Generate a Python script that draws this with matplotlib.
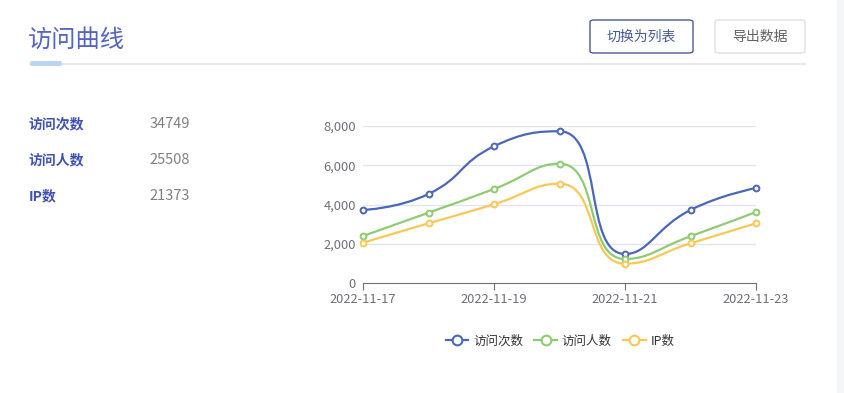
import numpy as np
import matplotlib
matplotlib.use("Agg")
import matplotlib.pyplot as plt
from matplotlib.path import Path
from matplotlib.patches import PathPatch, FancyBboxPatch, Rectangle
from matplotlib.lines import Line2D

plt.rcParams['font.family'] = ['Noto Sans CJK SC', 'DejaVu Sans']

dates = ['2022-11-17', '2022-11-18', '2022-11-19', '2022-11-20',
         '2022-11-21', '2022-11-22', '2022-11-23']
visits = [3720, 4535, 6965, 7730, 1478, 3720, 4840]
visitors = [2395, 3583, 4790, 6080, 1223, 2380, 3618]
ips = [2055, 3040, 4010, 5060, 985, 2020, 3040]

series_names = ['访问次数', '访问人数', 'IP数']
series_colors = ['#4b66ba', '#8fcb72', '#f9c755']

stat_labels = ['访问次数', '访问人数', 'IP数']
stat_values = ['34749', '25508', '21373']

y_ticks = [0, 2000, 4000, 6000, 8000]
x_tick_idx = [0, 2, 4, 6]

W, H = 844, 393
fig = plt.figure(figsize=(W / 100, H / 100), dpi=100)
fig.patch.set_facecolor('white')


def fx(px):
    return px / W


def fy(py):
    return 1 - py / H


# page decorations drawn in figure coords
fig.patches.append(Rectangle((fx(837), 0), fx(7), 1, transform=fig.transFigure,
                             facecolor='#f5f6f8', edgecolor='none'))
fig.text(fx(28), fy(40), '访问曲线', fontsize=17.5, color='#5465c4',
         ha='left', va='center')
fig.lines.append(Line2D([fx(30), fx(805)], [fy(64), fy(64)], transform=fig.transFigure,
                        color='#e6e8eb', lw=1.5))
fig.lines.append(Line2D([fx(30), fx(61)], [fy(63), fy(63)], transform=fig.transFigure,
                        color='#b9d3f5', lw=3.5, solid_capstyle='butt'))

# buttons
for x0, x1, label, ec, tc in [(590, 693, '切换为列表', '#4a5a94', '#4a5a94'),
                              (715, 805, '导出数据', '#dcdfe6', '#606266')]:
    fig.patches.append(FancyBboxPatch((fx(x0), fy(53)), fx(x1 - x0), fy(20) - fy(53),
                                      boxstyle='round,pad=0,rounding_size=0.005',
                                      transform=fig.transFigure, facecolor='white',
                                      edgecolor=ec, lw=1))
    fig.text(fx((x0 + x1) / 2), fy(37), label, fontsize=10, color=tc,
             ha='center', va='center')

# stats block
for i, (lab, val) in enumerate(zip(stat_labels, stat_values)):
    yy = fy(124 + 36 * i)
    fig.text(fx(29), yy, lab, fontsize=10, color='#3f51b5', fontweight='bold',
             ha='left', va='center')
    fig.text(fx(190), yy, val, fontsize=10.5, color='#808080', ha='right', va='center')

# chart
ax = fig.add_axes([fx(363), fy(283), fx(756 - 363), fy(126) - fy(283)])
ax.set_xlim(0, len(dates) - 1)
ax.set_ylim(0, 8000)
for s in ['top', 'right', 'left']:
    ax.spines[s].set_visible(False)
ax.spines['bottom'].set_color('#6e7079')
ax.set_yticks(y_ticks)
ax.set_yticklabels([f'{v:,}' for v in y_ticks])
ax.set_xticks(x_tick_idx)
ax.set_xticklabels([dates[i] for i in x_tick_idx])
ax.tick_params(axis='y', length=0, labelsize=9.3, labelcolor='#6e7079', pad=5)
ax.tick_params(axis='x', length=5, color='#6e7079', labelsize=9.3,
               labelcolor='#6e7079', pad=2)
for v in y_ticks[1:]:
    ax.axhline(v, color='#e0e6f1', lw=1, zorder=0)


def smooth_path(xs, ys, smooth=0.5):
    # echarts 5 style bezier smoothing (with extremum clamp), in pixel space
    pts = ax.transData.transform(np.column_stack([xs, ys]))
    n = len(pts)
    verts = [pts[0]]
    codes = [Path.MOVETO]
    cp0 = pts[0]
    for k in range(1, n):
        x, y = pts[k]
        px, py = pts[k - 1]
        if k + 1 >= n:
            ncp0 = np.array([x, y])
            ncp1 = np.array([x, y])
        else:
            nx, ny = pts[k + 1]
            vx, vy = nx - px, ny - py
            len_prev = np.hypot(x - px, y - py)
            len_next = np.hypot(nx - x, ny - y)
            ratio = len_next / (len_next + len_prev)
            c1x = x + vx * smooth * ratio
            c1y = y + vy * smooth * ratio
            c1x = min(max(c1x, min(nx, x)), max(nx, x))
            c1y = min(max(c1y, min(ny, y)), max(ny, y))
            vx, vy = c1x - x, c1y - y
            c0x = x - vx * len_prev / len_next
            c0y = y - vy * len_prev / len_next
            c0x = min(max(c0x, min(px, x)), max(px, x))
            c0y = min(max(c0y, min(py, y)), max(py, y))
            vx, vy = x - c0x, y - c0y
            c1x = x + vx * len_next / len_prev
            c1y = y + vy * len_next / len_prev
            ncp0 = np.array([c0x, c0y])
            ncp1 = np.array([c1x, c1y])
        verts += [cp0, ncp0, np.array([x, y])]
        codes += [Path.CURVE4] * 3
        cp0 = ncp1
    inv = ax.transData.inverted()
    return Path(inv.transform(np.array(verts)), codes)


xs = np.arange(len(dates))
for vals, color in zip([visits, visitors, ips], series_colors):
    ax.add_patch(PathPatch(smooth_path(xs, vals), facecolor='none', edgecolor=color,
                           lw=1.6, zorder=3))
    ax.plot(xs, vals, linestyle='none', marker='o', markersize=4.2,
            markerfacecolor='white', markeredgecolor=color, markeredgewidth=1.4,
            zorder=4, clip_on=False)

# legend
handles = [Line2D([0], [0], color=c, lw=1.6, marker='o', markersize=7,
                  markerfacecolor='white', markeredgewidth=1.5) for c in series_colors]
fig.legend(handles, series_names, loc='center', bbox_to_anchor=(fx(560), fy(341)),
           ncol=3, frameon=False, fontsize=9, labelcolor='#333333',
           handlelength=1.8, handletextpad=0.4, columnspacing=0.9)

fig.savefig('out.png', dpi=100)
